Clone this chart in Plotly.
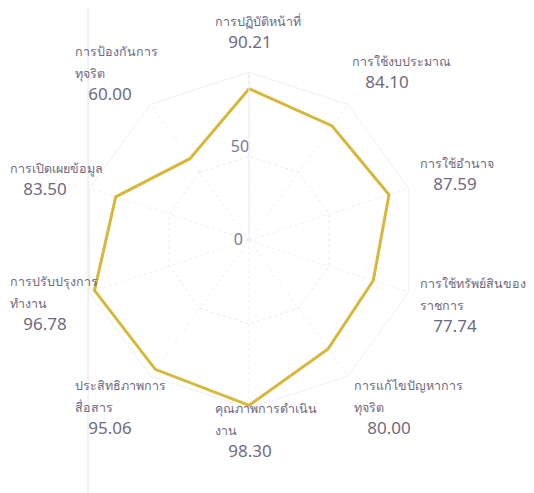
import plotly.graph_objects as go

# ---- data ----
category_names = [
    "การปฏิบัติหน้าที่",
    "การใช้งบประมาณ",
    "การใช้อำนาจ",
    "การใช้ทรัพย์สินของ<br>ราชการ",
    "การแก้ไขปัญหาการ<br>ทุจริต",
    "คุณภาพการดำเนิน<br>งาน",
    "ประสิทธิภาพการ<br>สื่อสาร",
    "การปรับปรุงการ<br>ทำงาน",
    "การเปิดเผยข้อมูล",
    "การป้องกันการ<br>ทุจริต",
]
scores = [90.21, 84.10, 87.59, 77.74, 80.00, 98.30, 95.06, 96.78, 83.50, 60.00]
radial_ticks = [0, 50]
radial_tick_labels = ["0", "50"]

# ---- layout helpers (label block top-left corners, in pixels) ----
W, H = 534, 493
label_left_px = [205, 342, 410, 410, 344, 205, 65, 0, 0, 65]
label_top_px = [3, 43, 145, 265, 367, 390, 367, 263, 150, 33]

categories = [n.replace("<br>", "") for n in category_names]

fig = go.Figure()
fig.add_trace(go.Scatterpolar(
    r=scores + scores[:1],
    theta=categories + categories[:1],
    mode="lines",
    line=dict(color="#d6b83c", width=3),
    hoverinfo="skip",
    showlegend=False,
))
# the "50" tick label, placed on the radial scale left of the vertical axis
fig.add_trace(go.Scatterpolar(
    r=radial_ticks[1:],
    theta=[categories[0]] * len(radial_ticks[1:]),
    mode="text",
    text=radial_tick_labels[1:],
    textposition="top left",
    textfont=dict(family="Noto Sans, sans-serif", size=16, color="#7a7898"),
    cliponaxis=False,
    hoverinfo="skip",
    showlegend=False,
))

annotations = []
for name, val, lx, ty in zip(category_names, scores, label_left_px, label_top_px):
    annotations.append(dict(
        xref="paper", yref="paper",
        x=lx / W, y=1 - ty / H,
        xanchor="left", yanchor="top", align="left",
        showarrow=False,
        text=f"<span style='font-size:12.5px'>{name}</span><br>\u00a0\u00a0\u00a0{val:.2f}",
        font=dict(family="Noto Sans, sans-serif", size=17, color="#6f6a80"),
    ))

fig.update_layout(
    width=W, height=H,
    margin=dict(l=0, r=0, t=0, b=0),
    paper_bgcolor="white",
    plot_bgcolor="white",
    font=dict(family="Noto Sans, sans-serif", color="#6f6a80", size=14),
    polar=dict(
        domain=dict(x=[0.137, 0.766], y=[0.188, 0.870]),
        bgcolor="white",
        gridshape="linear",
        angularaxis=dict(
            type="category",
            categoryorder="array",
            categoryarray=categories,
            rotation=90,
            direction="clockwise",
            showticklabels=False,
            ticks="",
            showline=True,
            linecolor="#f0f0f4",
            linewidth=1,
            showgrid=True,
            gridcolor="#f0f0f4",
            griddash="dot",
        ),
        radialaxis=dict(
            range=[0, 100],
            angle=90,
            side="counterclockwise",
            tickangle=90,
            tickmode="array",
            tickvals=radial_ticks + [100],
            ticktext=[radial_tick_labels[0], "", ""],
            showline=True,
            linecolor="#ececf0",
            showgrid=True,
            gridcolor="#ebebf0",
            griddash="dot",
            ticks="",
            tickfont=dict(family="Noto Sans, sans-serif", size=16, color="#7a7898"),
        ),
    ),
    annotations=annotations,
    shapes=[dict(
        type="line", xref="paper", yref="paper",
        x0=0.15, x1=0.15, y0=0, y1=1,
        line=dict(color="#e4e4ea", width=1),
    )],
)

fig.write_html("out.html")
